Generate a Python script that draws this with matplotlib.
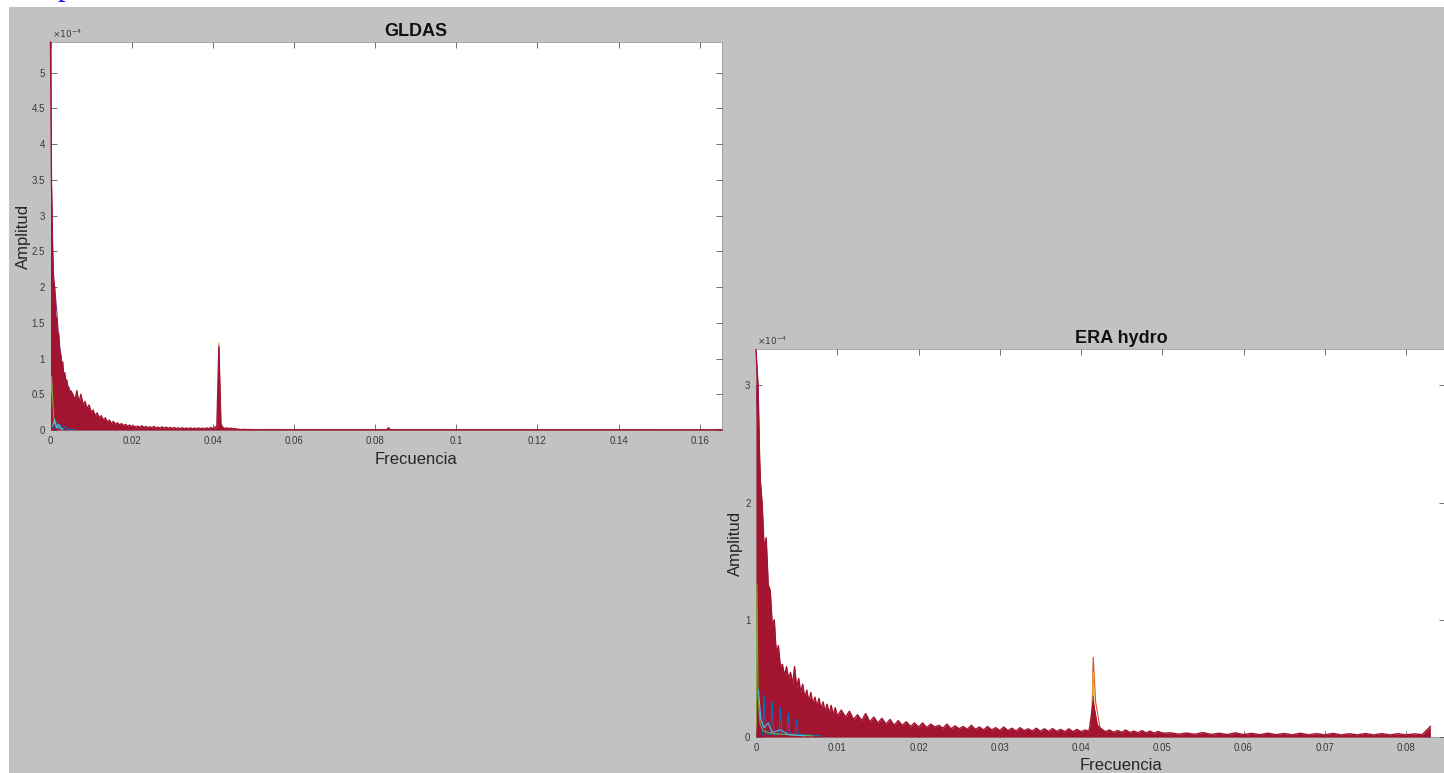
import numpy as np
import matplotlib
matplotlib.use("Agg")
import matplotlib.pyplot as plt
from matplotlib.patches import Rectangle
from matplotlib.ticker import FuncFormatter

plt.rcParams['font.family'] = ['Liberation Sans', 'DejaVu Sans']

# ---------------- colours (MATLAB default order) ----------------
C_BLUE = (0.000, 0.447, 0.741)
C_ORANGE = (0.850, 0.325, 0.098)
C_YELLOW = (0.929, 0.694, 0.125)
C_PURPLE = (0.494, 0.184, 0.556)
C_GREEN = (0.466, 0.674, 0.188)
C_CYAN = (0.301, 0.745, 0.933)
C_RED = (0.635, 0.078, 0.184)

# ---------------- GLDAS data (amplitude in units of 1e-4) ----------------
gldas_red_seg1_df = 0.00025
gldas_red_seg1 = [5.43, 3.40, 2.60, 2.10, 2.00, 1.60, 1.55, 1.30, 1.35, 1.10, 1.05,
                  0.90, 0.95, 0.75, 0.80, 0.65, 0.70, 0.55, 0.60, 0.50, 0.55]
gldas_red_seg2_f0 = 0.0055
gldas_red_seg2_df = 0.0005
gldas_red_seg2 = [0.50, 0.42, 0.55, 0.38, 0.50, 0.35, 0.40, 0.30, 0.35, 0.25,
                  0.28, 0.20, 0.24, 0.17, 0.20, 0.14, 0.17, 0.11, 0.14, 0.09,
                  0.12, 0.08, 0.10, 0.07, 0.09, 0.06, 0.08, 0.05, 0.07, 0.045,
                  0.06, 0.04, 0.055, 0.035, 0.06, 0.035, 0.05, 0.03, 0.045, 0.03,
                  0.05, 0.028, 0.04, 0.025, 0.045, 0.025, 0.04, 0.022, 0.035, 0.02,
                  0.035, 0.02, 0.03, 0.018, 0.032, 0.018, 0.028, 0.016, 0.03, 0.016,
                  0.028, 0.015, 0.03, 0.016, 0.027, 0.015, 0.03, 0.016, 0.035, 0.018,
                  0.04, 0.05, 1.15, 0.08, 0.035, 0.02, 0.03, 0.02, 0.025, 0.015,
                  0.02, 0.01, 0.01, 0.004]
gldas_red_tail_f = [0.0475, 0.05, 0.055, 0.06, 0.065, 0.07, 0.075, 0.08, 0.0828, 0.0833,
                    0.0838, 0.09, 0.10, 0.11, 0.12, 0.13, 0.14, 0.15, 0.16, 0.1655]
gldas_red_tail = [0.008, 0.004, 0.005, 0.003, 0.004, 0.003, 0.003, 0.003, 0.003, 0.03,
                  0.003, 0.003, 0.002, 0.003, 0.002, 0.002, 0.002, 0.002, 0.002, 0.002]

# series mostly hidden behind the red one (only their peaks show)
gldas_orange_f = [0, 0.0005, 0.001, 0.002, 0.004, 0.006, 0.0413, 0.0415, 0.0417, 0.1655]
gldas_orange = [3.0, 1.4, 0.8, 0.4, 0.15, 0.005, 0.005, 1.0, 0.005, 0.002]
gldas_yellow_f = [0, 0.0005, 0.001, 0.002, 0.004, 0.006, 0.0413, 0.0415, 0.0417, 0.1655]
gldas_yellow = [2.0, 1.0, 0.5, 0.25, 0.1, 0.005, 0.005, 1.22, 0.005, 0.002]
gldas_purple_f = [0, 0.0005, 0.001, 0.0015, 0.002, 0.003, 0.005, 0.008, 0.012, 0.016, 0.0413, 0.0415, 0.0417, 0.1655]
gldas_purple = [4.5, 2.3, 2.0, 1.7, 1.3, 0.85, 0.5, 0.3, 0.08, 0.004, 0.004, 1.18, 0.004, 0.002]
# series that show at the base of the red area
gldas_blue_f = [0.001, 0.0015, 0.002, 0.0025, 0.003, 0.0035, 0.004, 0.006]
gldas_blue = [0.02, 0.10, 0.02, 0.07, 0.015, 0.05, 0.01, 0.005]
gldas_green_f = [0, 0.00025, 0.0005, 0.00075, 0.001, 0.0015, 0.002, 0.003]
gldas_green = [0.3, 0.75, 0.5, 0.2, 0.1, 0.05, 0.03, 0.01]
gldas_cyan_f = [0.0005, 0.001, 0.0015, 0.002, 0.0025, 0.003]
gldas_cyan = [0.05, 0.15, 0.03, 0.08, 0.02, 0.01]

# ---------------- ERA hydro data (amplitude in units of 1e-4) ----------------
era_red_seg1_df = 0.00025
era_red_seg1 = [3.30, 3.00, 2.20, 2.00, 1.60, 1.70, 1.30, 1.25, 0.95, 1.00,
                0.70, 0.78, 0.60, 0.62, 0.52, 0.60, 0.50, 0.55, 0.45, 0.60,
                0.42, 0.50, 0.38, 0.45, 0.33, 0.40, 0.30, 0.38, 0.28, 0.34,
                0.26, 0.33, 0.24, 0.30, 0.22, 0.28, 0.20, 0.27, 0.19, 0.25, 0.18]
era_red_seg2_f0 = 0.0105
era_red_seg2_df = 0.0005
era_red_seg2 = [0.23, 0.17, 0.22, 0.15, 0.19, 0.14, 0.20, 0.13, 0.17, 0.12,
                0.16, 0.11, 0.15, 0.10, 0.14, 0.10, 0.13, 0.09, 0.12, 0.085,
                0.12, 0.08, 0.11, 0.085, 0.10, 0.075, 0.11, 0.07, 0.095, 0.07,
                0.09, 0.065, 0.10, 0.065, 0.085, 0.06, 0.09, 0.06, 0.08, 0.055,
                0.085, 0.055, 0.075, 0.05, 0.08, 0.055, 0.07, 0.05, 0.075, 0.05,
                0.07, 0.048, 0.072, 0.048, 0.065, 0.045, 0.07, 0.045, 0.065, 0.045,
                0.06, 0.05, 0.30, 0.10, 0.07, 0.045, 0.06, 0.04, 0.055, 0.04,
                0.06, 0.038, 0.05, 0.036, 0.055, 0.035, 0.05, 0.033, 0.048, 0.032]
era_red_seg3_f0 = 0.051
era_red_seg3_df = 0.001
era_red_seg3 = [0.036, 0.024, 0.034, 0.023, 0.038, 0.022, 0.032, 0.021, 0.035, 0.021,
                0.031, 0.020, 0.033, 0.020, 0.030, 0.019, 0.032, 0.019, 0.029, 0.018,
                0.031, 0.018, 0.028, 0.018, 0.030, 0.018, 0.029, 0.018, 0.028, 0.018,
                0.027, 0.020, 0.09]

era_orange_f = [0, 0.0005, 0.001, 0.002, 0.004, 0.006, 0.0413, 0.0415, 0.0418, 0.0425, 0.083]
era_orange = [1.0, 0.6, 0.3, 0.15, 0.05, 0.005, 0.005, 0.68, 0.30, 0.005, 0.005]
era_yellow_f = [0, 0.0005, 0.001, 0.002, 0.004, 0.006, 0.0413, 0.0415, 0.0417, 0.083]
era_yellow = [1.2, 0.4, 0.2, 0.08, 0.03, 0.005, 0.005, 0.55, 0.005, 0.005]
era_purple_f = [0, 0.001, 0.002, 0.003, 0.005, 0.01, 0.015, 0.0413, 0.0415, 0.0417, 0.083]
era_purple = [3.0, 1.5, 0.9, 0.6, 0.4, 0.12, 0.005, 0.005, 0.35, 0.005, 0.005]
era_blue_f = [0.0008, 0.001, 0.0012, 0.0018, 0.002, 0.0022, 0.0028, 0.003, 0.0032,
              0.0038, 0.004, 0.0042, 0.0048, 0.005, 0.0052, 0.006, 0.008]
era_blue = [0.02, 0.35, 0.03, 0.02, 0.30, 0.02, 0.02, 0.25, 0.02,
            0.02, 0.20, 0.02, 0.02, 0.15, 0.02, 0.02, 0.01]
era_green_f = [0, 0.00012, 0.00025, 0.0005, 0.00075, 0.001, 0.0015, 0.002, 0.003, 0.004, 0.005, 0.007]
era_green = [0.1, 1.3, 0.35, 0.12, 0.07, 0.05, 0.04, 0.03, 0.025, 0.02, 0.015, 0.01]
era_cyan_f = [0.0003, 0.0006, 0.001, 0.0015, 0.002, 0.003, 0.004, 0.006]
era_cyan = [0.4, 0.15, 0.08, 0.12, 0.04, 0.06, 0.02, 0.01]

# ---------------- axes settings ----------------
gldas_xticks = [0, 0.02, 0.04, 0.06, 0.08, 0.10, 0.12, 0.14, 0.16]
gldas_yticks = [0, 0.5, 1, 1.5, 2, 2.5, 3, 3.5, 4, 4.5, 5]
gldas_xlim = (0, 0.1655)
gldas_ylim = (0, 5.43)
era_xticks = [0, 0.01, 0.02, 0.03, 0.04, 0.05, 0.06, 0.07, 0.08]
era_yticks = [0, 1, 2, 3]
era_xlim = (0, 0.0848)
era_ylim = (0, 3.31)


def bins(f0, df, vals):
    return f0 + df * np.arange(len(vals))


W, H = 1444, 773
fig = plt.figure(figsize=(W / 100, H / 100), dpi=100, facecolor='white')
fig.add_artist(Rectangle((9 / W, 0), 1 - 9 / W, (H - 7) / H, transform=fig.transFigure,
                         facecolor='#c2c2c2', edgecolor='none', zorder=-10))
fig.text(65 / W, 1 + 4.5 / H, 'p', color='#1a1aee', fontsize=22,
         family='Liberation Serif', ha='center', va='baseline')


def px_axes(left, top, right, bottom):
    return fig.add_axes([left / W, (H - bottom) / H, (right - left) / W, (bottom - top) / H])


fmt = FuncFormatter(lambda v, p: '%g' % round(v, 6))


def style(ax, xticks, yticks, xlim, ylim, title, tx, xl_y, yl_x):
    ax.set_facecolor('white')
    ax.set_xlim(*xlim)
    ax.set_ylim(*ylim)
    ax.set_xticks(xticks)
    ax.set_yticks(yticks)
    ax.xaxis.set_major_formatter(fmt)
    ax.yaxis.set_major_formatter(fmt)
    ax.tick_params(direction='in', top=True, right=True, length=4.3, width=0.6,
                   color='#5a5a5a', labelsize=7, labelcolor='#3a3a3a', pad=4)
    for s in ax.spines.values():
        s.set_color('#9a9a9a')
        s.set_linewidth(0.6)
        s.set_zorder(1)
    ax.set_title(title, fontsize=13, fontweight='bold', x=tx, pad=4.5, color='#111111')
    ax.set_xlabel('Frecuencia', fontsize=12, color='#262626')
    ax.xaxis.set_label_coords(tx, xl_y)
    ax.set_ylabel('Amplitud', fontsize=12, color='#262626')
    ax.yaxis.set_label_coords(yl_x, 0.5)
    ax.text(0.002, 1.004, r'$\times10^{-4}$', transform=ax.transAxes, fontsize=6.5,
            color='#3a3a3a', ha='left', va='bottom')


LW = 0.8


def draw(ax, behind, red_f, red_a, front):
    for f, a, c in behind:
        ax.plot(f, a, color=c, lw=LW, zorder=1.5)
    ax.fill_between(red_f, 0, red_a, color=C_RED, lw=0, zorder=2)
    ax.plot(red_f, red_a, color=C_RED, lw=1.0, zorder=2.1, clip_on=False)
    for f, a, c in front:
        ax.plot(f, a, color=c, lw=LW, zorder=3)


# ---------------- GLDAS ----------------
ax1 = px_axes(50.5, 42, 722, 430)
g_f = np.concatenate([bins(0, gldas_red_seg1_df, gldas_red_seg1),
                      bins(gldas_red_seg2_f0, gldas_red_seg2_df, gldas_red_seg2),
                      np.array(gldas_red_tail_f)])
g_a = np.concatenate([gldas_red_seg1, gldas_red_seg2, gldas_red_tail])
draw(ax1,
     [(gldas_orange_f, gldas_orange, C_ORANGE), (gldas_yellow_f, gldas_yellow, C_YELLOW),
      (gldas_purple_f, gldas_purple, C_PURPLE)],
     g_f, g_a,
     [(gldas_blue_f, gldas_blue, C_BLUE), (gldas_green_f, gldas_green, C_GREEN),
      (gldas_cyan_f, gldas_cyan, C_CYAN)])
style(ax1, gldas_xticks, gldas_yticks, gldas_xlim, gldas_ylim, 'GLDAS',
      0.544, -0.057, -0.029)

# ---------------- ERA hydro ----------------
ax2 = px_axes(756, 349, 1445, 737)
e_f = np.concatenate([bins(0, era_red_seg1_df, era_red_seg1),
                      bins(era_red_seg2_f0, era_red_seg2_df, era_red_seg2),
                      bins(era_red_seg3_f0, era_red_seg3_df, era_red_seg3)])
e_a = np.concatenate([era_red_seg1, era_red_seg2, era_red_seg3])
draw(ax2,
     [(era_orange_f, era_orange, C_ORANGE), (era_yellow_f, era_yellow, C_YELLOW),
      (era_purple_f, era_purple, C_PURPLE)],
     e_f, e_a,
     [(era_blue_f, era_blue, C_BLUE), (era_green_f, era_green, C_GREEN),
      (era_cyan_f, era_cyan, C_CYAN)])
style(ax2, era_xticks, era_yticks, era_xlim, era_ylim, 'ERA hydro',
      0.530, -0.054, -0.019)

fig.savefig('out.png', dpi=100, facecolor='white')
